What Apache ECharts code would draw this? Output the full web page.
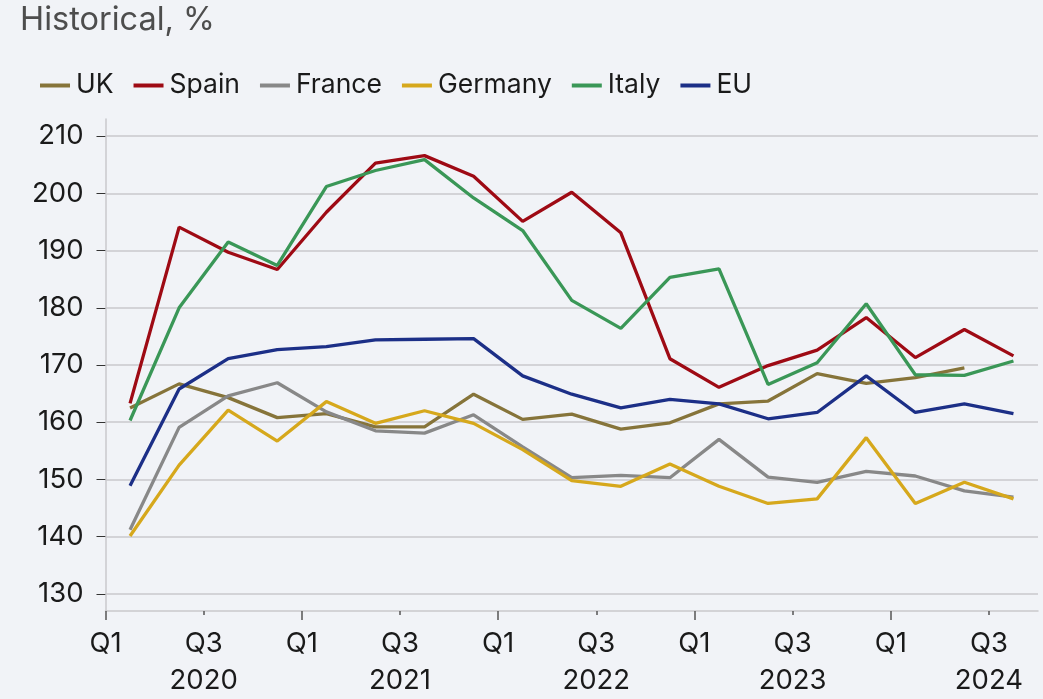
<!DOCTYPE html>
<html>
<head>
<meta charset="utf-8">
<script src="https://cdn.jsdelivr.net/npm/echarts@6/dist/echarts.min.js"></script>
<style>
  html, body { margin: 0; padding: 0; background: #f1f3f7; }
  #chart { width: 1043px; height: 699px; }
</style>
</head>
<body>
<div id="chart"></div>
<script>
// Quarterly values, Q1 2020 .. Q3 2024
const uk      = [162.5, 166.7, 164.3, 160.8, 161.5, 159.2, 159.2, 164.9, 160.5, 161.4, 158.8, 159.9, 163.2, 163.7, 168.5, 166.8, 167.8, 169.5];
const spain   = [163.3, 194.1, 189.7, 186.7, 196.7, 205.3, 206.6, 203.0, 195.1, 200.2, 193.1, 171.1, 166.1, 169.9, 172.6, 178.3, 171.3, 176.2, 171.6];
const france  = [141.2, 159.1, 164.6, 166.9, 161.8, 158.5, 158.1, 161.3, 155.7, 150.3, 150.7, 150.3, 157.0, 150.4, 149.5, 151.4, 150.6, 148.0, 146.9];
const germany = [140.1, 152.5, 162.1, 156.7, 163.6, 159.8, 162.0, 159.8, 155.2, 149.8, 148.8, 152.7, 148.8, 145.8, 146.6, 157.3, 145.8, 149.5, 146.6];
const italy   = [160.3, 180.0, 191.5, 187.4, 201.2, 204.0, 205.9, 199.2, 193.5, 181.3, 176.4, 185.3, 186.8, 166.6, 170.4, 180.7, 168.3, 168.2, 170.7];
const eu      = [148.9, 165.8, 171.1, 172.7, 173.2, 174.4, 174.5, 174.6, 168.1, 164.9, 162.5, 164.0, 163.2, 160.6, 161.7, 168.1, 161.7, 163.2, 161.5];

const seriesNames  = ['UK', 'Spain', 'France', 'Germany', 'Italy', 'EU'];
const seriesColors = ['#86743a', '#9e0a14', '#888888', '#d6a81c', '#3a9757', '#1c2f87'];

// Tick labels: one per half-year boundary, years under the Q3 ticks
const xTickLabels = ['Q1', 'Q3', 'Q1', 'Q3', 'Q1', 'Q3', 'Q1', 'Q3', 'Q1', 'Q3'];
const yearLabels  = ['2020', '2021', '2022', '2023', '2024'];
const yTickValues = [130, 140, 150, 160, 170, 180, 190, 200, 210];

const quarterCount = spain.length;
const halfYearTicks = xTickLabels.map((_, k) => k * 2);   // quarter-boundary positions
const yearStartTicks = halfYearTicks.filter((_, k) => k % 2 === 0);
const midYearTicks = halfYearTicks.filter((_, k) => k % 2 === 1);

// each quarter's value sits in the middle of its quarter
const toPoints = arr => arr.map((v, i) => [i + 0.5, v]);

const FONT = 'Inter';
const chart = echarts.init(document.getElementById('chart'), null, { renderer: 'canvas' });

const allData = [uk, spain, france, germany, italy, eu];

const series = allData.map((arr, idx) => ({
  name: seriesNames[idx],
  type: 'line',
  xAxisIndex: 0,
  yAxisIndex: 0,
  data: toPoints(arr),
  showSymbol: false,
  symbol: 'none',
  lineStyle: { width: 3.3, color: seriesColors[idx] },
  itemStyle: { color: seriesColors[idx] },
  emphasis: { disabled: true },
  z: 2
}));

// horizontal grid lines at the labelled values
series[0].markLine = {
  silent: true,
  symbol: ['none', 'none'],
  label: { show: false },
  lineStyle: { color: '#c9c9cc', width: 1.5, type: 'solid' },
  emphasis: { disabled: true },
  animation: false,
  z: 1,
  data: yTickValues.map(v => ({ yAxis: v }))
};

const option = {
  backgroundColor: '#f1f3f7',
  animation: false,
  textStyle: { fontFamily: FONT },
  title: {
    text: 'Historical, %',
    left: 15,
    top: -1,
    textStyle: { fontFamily: FONT, fontSize: 32.5, fontWeight: 'normal', color: '#4d4d4d' }
  },
  legend: {
    left: 35,
    top: 67,
    icon: 'rect',
    itemWidth: 30,
    itemHeight: 4,
    itemGap: 20,
    data: seriesNames,
    textStyle: { fontFamily: FONT, fontSize: 26.5, color: '#1a1a1a', padding: [0, 0, 0, 1] }
  },
  grid: { left: 105.5, right: 5, top: 119, bottom: 86, containLabel: false },
  xAxis: [
    {
      type: 'value',
      position: 'bottom',
      min: 0,
      max: quarterCount,
      axisLine: { show: true, lineStyle: { color: '#c9c9cc', width: 1.5 } },
      axisTick: { show: true, customValues: midYearTicks, length: 4, lineStyle: { color: '#555', width: 1.5 } },
      splitLine: { show: false },
      axisLabel: {
        customValues: halfYearTicks,
        margin: 14,
        fontFamily: FONT,
        fontSize: 27.5,
        lineHeight: 37,
        color: '#1a1a1a',
        formatter: function (value) {
          const k = Math.round(value / 2);
          let s = xTickLabels[k];
          if (k % 2 === 1) s += '\n' + yearLabels[(k - 1) / 2];
          return s;
        }
      }
    },
    {
      type: 'value',
      position: 'bottom',
      min: 0,
      max: quarterCount,
      axisLine: { show: false },
      axisTick: { show: true, customValues: yearStartTicks, length: 9, lineStyle: { color: '#555', width: 1.5 } },
      splitLine: { show: false },
      axisLabel: { show: false }
    }
  ],
  yAxis: {
    type: 'value',
    min: 127,
    max: 213,
    axisLine: { show: true, lineStyle: { color: '#c9c9cc', width: 1.5 } },
    axisTick: { show: true, customValues: yTickValues, length: 9, lineStyle: { color: '#333', width: 1 } },
    splitLine: { show: false },
    axisLabel: {
      customValues: yTickValues,
      margin: 22,
      fontFamily: FONT,
      fontSize: 27.5,
      color: '#1a1a1a'
    }
  },
  series: series
};

chart.setOption(option);
</script>
</body>
</html>
